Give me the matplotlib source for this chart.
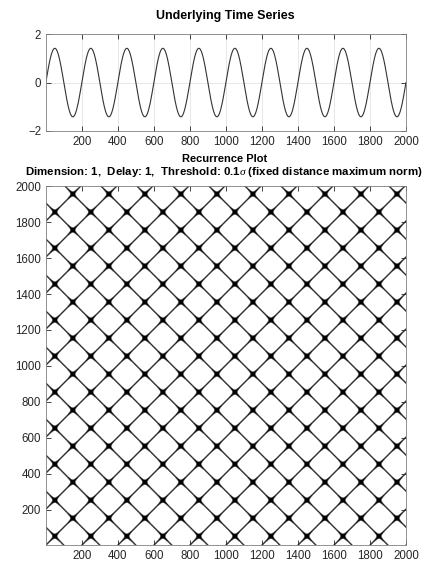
import numpy as np
import matplotlib
matplotlib.use("Agg")
import matplotlib.pyplot as plt
from matplotlib.colors import LinearSegmentedColormap

plt.rcParams['font.family'] = ['Liberation Sans', 'DejaVu Sans']
plt.rcParams['font.size'] = 8
plt.rcParams['mathtext.fontset'] = 'custom'
plt.rcParams['mathtext.it'] = 'Liberation Serif:italic'

# values
n_samples = 2000
period = 200          # samples per cycle
amplitude = np.sqrt(2)  # peaks at about +-1.41
embed_dim = 1
delay = 1
thresh_factor = 0.1   # threshold = 0.1 * std
xticks = [200, 400, 600, 800, 1000, 1200, 1400, 1600, 1800, 2000]
ts_yticks = [-2, 0, 2]

t = np.arange(1, n_samples + 1)
x = amplitude * np.sin(2 * np.pi * t / period)

# recurrence matrix, maximum norm, fixed distance
eps = thresh_factor * np.std(x)
R = np.abs(x[:, None] - x[None, :]) < eps

txt = '#262626'
axc = '#262626'
# white -> black, pushed dark so thin lines stay visible after downsampling
rp_cmap = LinearSegmentedColormap.from_list('rp', ['white', 'black'], gamma=0.45)

fig = plt.figure(figsize=(4.22, 5.70), dpi=100)

# time series
ax1 = fig.add_axes([0.109, 0.7702, 0.853, 0.170])
ax1.plot(t, x, color='#333333', lw=0.8)
ax1.set_xlim(1, n_samples)
ax1.set_ylim(-2, 2)
ax1.set_xticks(xticks)
ax1.set_yticks(ts_yticks)
ax1.grid(True, color='#e3e3e3', lw=0.6)
ax1.set_axisbelow(True)

# recurrence plot
ax2 = fig.add_axes([0.109, 0.0433, 0.853, 0.630])
ax2.imshow(R.astype(float), cmap=rp_cmap, origin='lower', aspect='auto',
           extent=[0.5, n_samples + 0.5, 0.5, n_samples + 0.5],
           interpolation='antialiased', interpolation_stage='data',
           vmin=0, vmax=1)
ax2.set_xlim(1, n_samples)
ax2.set_ylim(1, n_samples)
ax2.set_xticks(xticks)
ax2.set_yticks(xticks)

for ax in (ax1, ax2):
    ax.tick_params(direction='in', length=3.5, width=0.6, colors=axc,
                   labelcolor=txt, top=True, right=True, labelsize=8.3)
    for s in ax.spines.values():
        s.set_color('#808080')
        s.set_linewidth(0.6)

fig.text(0.535, 1 - 18.5 / 570, 'Underlying Time Series', ha='center',
         va='baseline', fontweight='bold', fontsize=9, color='black')
fig.text(0.532, 1 - 162.5 / 570, 'Recurrence Plot', ha='center',
         va='baseline', fontweight='bold', fontsize=8, color='black')
fig.text(0.5 * (26 + 421) / 422, 1 - 175.3 / 570,
         'Dimension: %d,  Delay: %d,  Threshold: %.1f$\\sigma$ (fixed distance maximum norm)'
         % (embed_dim, delay, thresh_factor),
         ha='center', va='baseline', fontweight='bold', fontsize=8.25, color='black')

fig.savefig('out.png', dpi=100)
